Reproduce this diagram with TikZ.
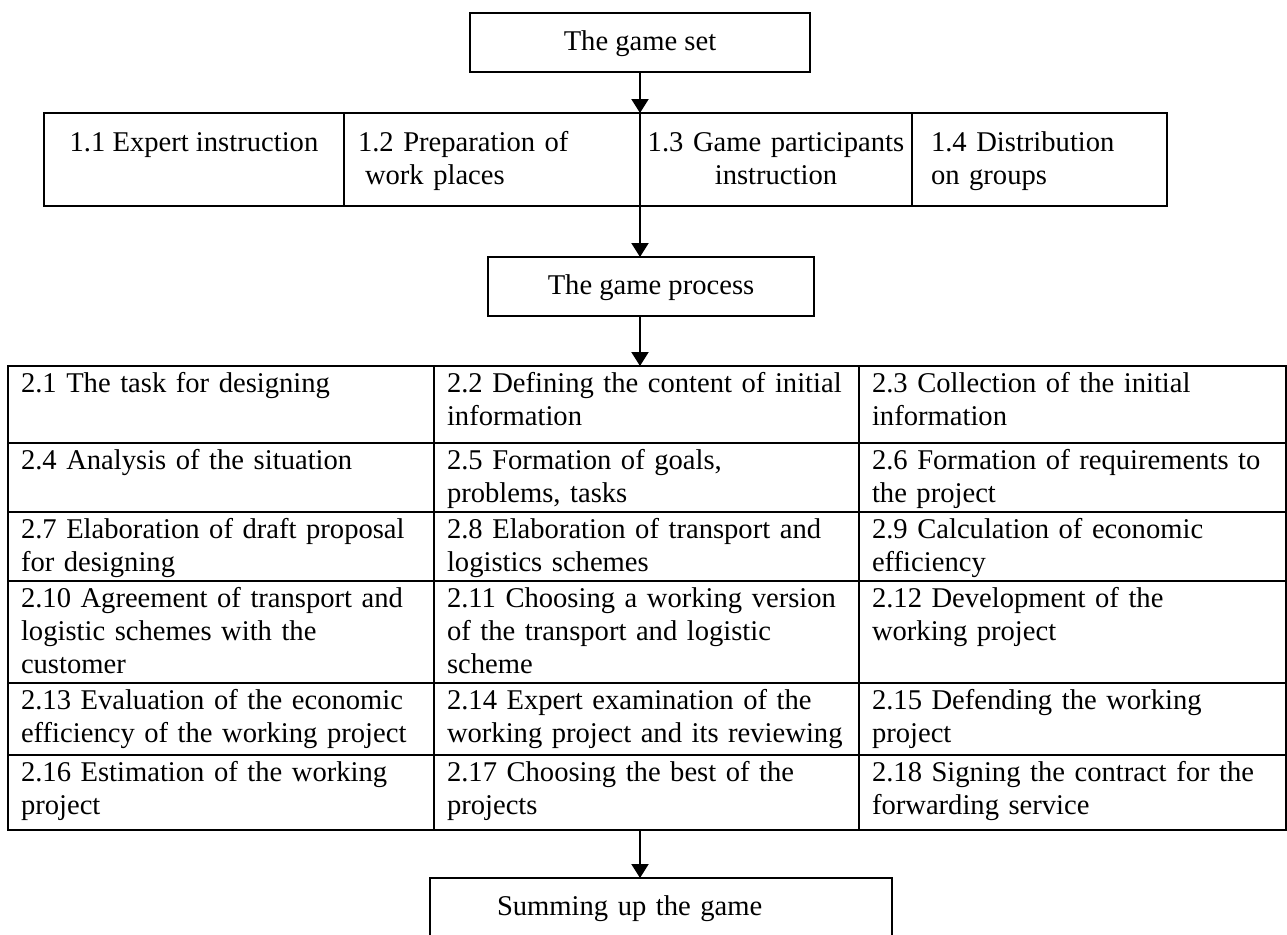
\documentclass[tikz,border=0pt]{standalone}
\usepackage{fontspec}
\setmainfont{Liberation Serif}
\usepackage{tikz}
\usetikzlibrary{positioning, arrows, arrows.meta}
\tikzset{
	->,
	>={Triangle[length=7pt, width=8.5pt]},
	every node/.style={font=\fontsize{14.3}{16.5}\selectfont},
	cellbox/.style={draw, inner ysep=0pt, outer sep=0pt},
	bigbox/.style={cellbox, text height=18.5pt, text depth=11pt},
	stagebox/.style={cellbox, text height=19pt, text depth=27.5pt},
	colA/.style={cellbox, align=left, inner xsep=6.5pt, text width=200pt},
	colB/.style={cellbox, align=left, inner xsep=6.5pt, text width=199.5pt},
	colC/.style={cellbox, align=left, inner xsep=6.5pt, text width=200.5pt},
	rowh/.style={text height=13pt, text depth=#1}
}

\begin{document}
\begin{tikzpicture}[x=0.5pt, y=-0.5pt, line width=1pt]
	\useasboundingbox (0,0) rectangle (1287,934);
	
	\node[bigbox, minimum width=170pt] (gset) at (640,42.5) {The game set};
	
	\node[stagebox, minimum width=150pt, anchor=north west] (s11) at (44,113) {1.1 Expert instruction};
	\node[stagebox, align=left, inner xsep=7pt, text width=134pt, right=0pt of s11] (s12) {1.2 Preparation of\\\hspace*{3.5pt}work places};
	\node[stagebox, align=center, inner xsep=2pt, text width=132pt, right=0pt of s12] (s13) {1.3 Game participants\\instruction};
	\node[stagebox, align=left, inner xsep=9.5pt, text width=108.5pt, right=0pt of s13] (s14) {1.4 Distribution\\on groups};
	
	\node[bigbox, minimum width=163pt] (gproc) at (651,286.5) {The game process};
	
	\node[colA, rowh=25.5pt, anchor=north west] (p1) at (8,366) {2.1 The task for designing};
	\node[colB, rowh=25.5pt, right=0pt of p1] (p2) {2.2 Defining the content of initial\\information};
	\node[colC, rowh=25.5pt, right=0pt of p2] (p3) {2.3 Collection of the initial\\information};
	
	\node[colA, rowh=21.5pt, below=0pt of p1] (p4) {2.4 Analysis of the situation};
	\node[colB, rowh=21.5pt, right=0pt of p4] (p5) {2.5 Formation of goals,\\problems, tasks};
	\node[colC, rowh=21.5pt, right=0pt of p5] (p6) {2.6 Formation of requirements to\\the project};
	
	\node[colA, rowh=21.5pt, below=0pt of p4] (p7) {2.7 Elaboration of draft proposal\\for designing};
	\node[colB, rowh=21.5pt, right=0pt of p7] (p8) {2.8 Elaboration of transport and\\logistics schemes};
	\node[colC, rowh=21.5pt, right=0pt of p8] (p9) {2.9 Calculation of economic\\efficiency};
	
	\node[colA, rowh=38pt, below=0pt of p7] (p10) {2.10 Agreement of transport and\\logistic schemes with the\\customer};
	\node[colB, rowh=38pt, right=0pt of p10] (p11) {2.11 Choosing a working version\\of the transport and logistic\\scheme};
	\node[colC, rowh=38pt, right=0pt of p11] (p12) {2.12 Development of the\\working project};
	
	\node[colA, rowh=23pt, below=0pt of p10] (p13) {2.13 Evaluation of the economic\\efficiency of the working project};
	\node[colB, rowh=23pt, right=0pt of p13] (p14) {2.14 Expert examination of the\\working project and its reviewing};
	\node[colC, rowh=23pt, right=0pt of p14] (p15) {2.15 Defending the working\\project};
	
	\node[colA, rowh=24.5pt, below=0pt of p13] (p16) {2.16 Estimation of the working\\project};
	\node[colB, rowh=24.5pt, right=0pt of p16] (p17) {2.17 Choosing the best of the\\projects};
	\node[colC, rowh=24.5pt, right=0pt of p17] (p18) {2.18 Signing the contract for the\\forwarding service};
	
	\node[bigbox, align=left, inner xsep=33.5pt, text width=164pt, anchor=north west] (gsum) at (430,878) {Summing up the game};
	
	\draw (gset) -- (s13.north west);
	\draw (s13.south west) -- (s13.south west |- gproc.north);
	\draw (gproc.south -| gset) -- (p2.north -| gset);
	\draw (p17.south -| gset) -- (gsum.north -| gset);
\end{tikzpicture}
\end{document}
